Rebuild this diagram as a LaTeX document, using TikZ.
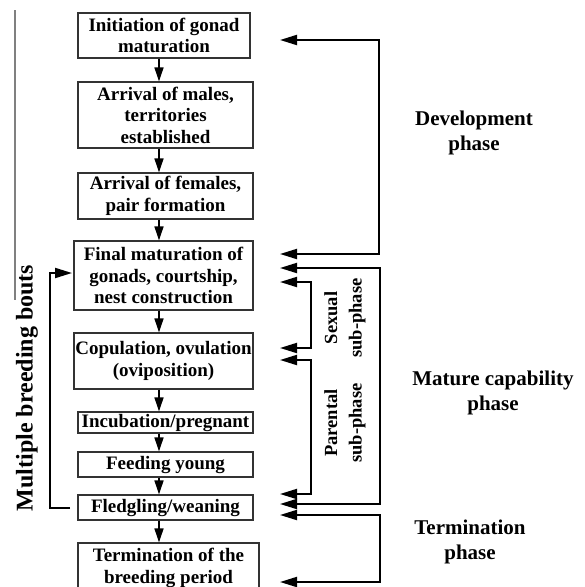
\documentclass[tikz,border=0pt]{standalone}
\usepackage{fontspec}
\setmainfont{Liberation Serif}
\usetikzlibrary{arrows.meta}
\begin{document}
\begin{tikzpicture}[x=1pt,y=-1pt,
  box/.style={draw=black!80, line width=1.2pt, inner sep=0pt, align=center,
    font=\bfseries\fontsize{19}{21.5}\selectfont},
  darr/.style={line width=1.6pt, -{Triangle[length=14pt,width=9pt]}},
  rarr/.style={line width=2pt, {Triangle[length=17pt,width=10pt]}-{Triangle[length=17pt,width=10pt]}},
  larr/.style={line width=2pt, -{Triangle[length=17pt,width=10pt]}},
  phase/.style={font=\bfseries\fontsize{21}{25}\selectfont, align=center},
  sub/.style={font=\bfseries\fontsize{18.5}{24.5}\selectfont, align=center, rotate=90}]
\useasboundingbox (0,0) rectangle (585,587);
\clip (0,0) rectangle (585,587);
\fill[white] (0,0) rectangle (585,587);

% boxes
\node[box, minimum width=172pt, minimum height=45pt] (b1) at (164,35.5) {Initiation of gonad\\maturation};
\node[box, minimum width=175pt, minimum height=66pt] (b2) at (165.5,115) {Arrival of males,\\territories\\established};
\node[box, minimum width=175pt, minimum height=46pt] (b3) at (165.5,196) {Arrival of females,\\pair formation};
\node[box, minimum width=179pt, minimum height=69pt] (b4) at (163.5,275.5) {Final maturation of\\gonads, courtship,\\nest construction};
\node[box, minimum width=179pt, minimum height=56pt] (b5) at (163.5,361) {Copulation, ovulation\\(oviposition)};
\node[box, minimum width=175pt, minimum height=21pt] (b6) at (165.5,422.5) {Incubation/pregnant};
\node[box, minimum width=175pt, minimum height=25pt] (b7) at (165.5,464.5) {Feeding young};
\node[box, minimum width=175pt, minimum height=25pt] (b8) at (165.5,507.5) {Fledgling/weaning};
\node[box, minimum width=181pt, minimum height=50pt] (b9) at (168.5,568) {Termination of the\\breeding period};

% vertical flow arrows
\coordinate (ax) at (159,0);
\draw[darr] (b1.south -| ax) -- (b2.north -| ax);
\draw[darr] (b2.south -| ax) -- (b3.north -| ax);
\draw[darr] (b3.south -| ax) -- (b4.north -| ax);
\draw[darr] (b4.south -| ax) -- (b5.north -| ax);
\draw[darr] (b5.south -| ax) -- (b6.north -| ax);
\draw[darr] (b6.south -| ax) -- (b7.north -| ax);
\draw[darr] (b7.south -| ax) -- (b8.north -| ax);
\draw[darr] (b8.south -| ax) -- (b9.north -| ax);

% left gray rule and loop
\draw[black!50, line width=2pt] (15,10) -- (15,300);
\coordinate (lp1) at (70,507.5);
\coordinate (lp2) at (72,273);
\draw[larr] (lp1) -- (50,507.5) -- (50,273) -- (lp2);
\node[font=\bfseries\fontsize{24}{28}\selectfont, rotate=90] (mb) at (27,388) {Multiple breeding bouts};

% right brackets
\coordinate (d1) at (280,40);   \coordinate (d2) at (280,254);
\coordinate (m1) at (280,268);  \coordinate (m2) at (280,504);
\coordinate (s1) at (280,282);  \coordinate (s2) at (280,348);
\coordinate (p1) at (280,360);  \coordinate (p2) at (280,494);
\coordinate (t1) at (280,515);  \coordinate (t2) at (280,582);
\draw[rarr] (d1) -- (379,40) -- (379,254) -- (d2);
\draw[rarr] (m1) -- (380,268) -- (380,504) -- (m2);
\draw[rarr] (s1) -- (311,282) -- (311,348) -- (s2);
\draw[rarr] (p1) -- (311,360) -- (311,494) -- (p2);
\draw[rarr] (t1) -- (380,515) -- (380,582) -- (t2);

% labels
\node[sub] (sx) at (345,318) {Sexual\\sub-phase};
\node[sub] (pa) at (345,423) {Parental\\sub-phase};
\node[phase] (dp) at (474,133) {Development\\phase};
\node[phase] (mp) at (493,393) {Mature capability\\phase};
\node[phase] (tp) at (470,542) {Termination\\phase};
\end{tikzpicture}
\end{document}
